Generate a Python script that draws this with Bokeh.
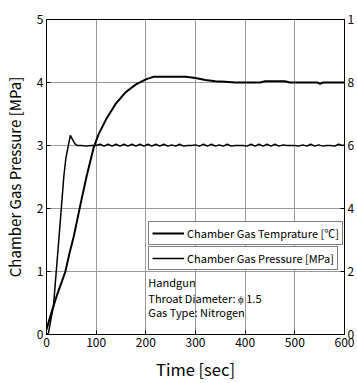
from bokeh.plotting import figure
from bokeh.models import Range1d, LinearAxis, Legend, LegendItem, Label
from bokeh.embed import file_html
from bokeh.resources import INLINE

FONT = "Noto Sans CJK JP"

# Chamber gas temperature [°C] (right axis)
temp_time = [0, 10, 20, 30, 38, 46, 55, 68, 81, 95, 105, 121, 140, 160, 180, 200, 215,
             280, 300, 320, 340, 360, 380, 430, 440, 480, 490, 530, 545, 551, 557, 570, 600]
temp_vals = [1.6, 7, 12, 16.4, 20, 25.6, 31.2, 41, 50.4, 59.4, 63.6, 68.6, 73.4, 77, 79.4, 81, 81.8,
             81.8, 81.4, 80.8, 80.4, 80.2, 80, 80, 80.4, 80.4, 80, 80, 80, 79.6, 80, 80, 80]

# Chamber gas pressure [MPa] (left axis)
pres_time = [0, 4, 8, 14, 21, 28, 35, 39, 44, 48, 52, 57, 62, 70, 80, 90, 100,
             108, 116, 124, 132, 140, 148, 156, 164, 172, 180, 188, 196, 204, 212, 220, 228,
             236, 244, 252, 260, 268, 276, 284, 292, 300, 308, 316, 324, 332, 340, 348, 356,
             364, 372, 380, 388, 396, 404, 412, 420, 428, 436, 444, 452, 460, 468, 476, 484,
             492, 500, 508, 516, 524, 532, 540, 548, 556, 564, 572, 580, 588, 596, 600]
pres_vals = [0, 0.02, 0.2, 0.45, 1.13, 1.82, 2.52, 2.8, 3.0, 3.16, 3.1, 3.03, 3.0, 3.0, 2.99, 3.0, 3.0,
             3.02, 2.99, 3.02, 2.99, 3.02, 2.99, 3.02, 2.99, 3.02, 2.99, 3.02, 2.99, 3.02, 2.99, 3.02, 2.99,
             3.02, 2.99, 3.01, 2.99, 3.02, 2.99, 3.0, 3.0, 3.01, 2.99, 3.02, 2.99, 3.02, 2.99, 3.01, 2.99,
             3.02, 2.99, 3.0, 3.0, 3.0, 2.99, 3.02, 2.99, 3.02, 2.99, 3.02, 2.99, 3.02, 2.99, 3.01, 3.0,
             3.0, 3.0, 2.99, 3.01, 2.99, 3.02, 2.99, 3.01, 2.99, 3.0, 3.0, 2.99, 3.02, 3.0, 3.01]

x_ticks = [0, 100, 200, 300, 400, 500, 600]
y_ticks = [0, 1, 2, 3, 4, 5]
temp_ticks = [0, 20, 40, 60, 80, 100]
temp_tick_labels = {0: "0", 20: "2", 40: "4", 60: "6", 80: "8", 100: "1"}

legend_labels = ["Chamber Gas Temprature [℃]", "Chamber Gas Pressure [MPa]"]
note_lines = ["Handgun", "Throat Diameter: ϕ 1.5", "Gas Type: Nitrogen"]

p = figure(width=357, height=383, output_backend="svg", toolbar_location=None,
           x_range=Range1d(0, 600), y_range=Range1d(0, 5),
           min_border_left=46, min_border_right=11, min_border_top=19, min_border_bottom=48)
p.extra_y_ranges = {"temp": Range1d(0, 100)}

p.outline_line_color = "black"
p.outline_line_width = 1
p.background_fill_color = "white"
p.border_fill_color = "white"

for g in (p.xgrid[0], p.ygrid[0]):
    g.grid_line_color = "#9a9a9a"
    g.grid_line_width = 1

p.xaxis.ticker = x_ticks
p.yaxis.ticker = y_ticks
p.xaxis.axis_label = "Time [sec]"
p.yaxis.axis_label = "Chamber Gas Pressure [MPa]"

right = LinearAxis(y_range_name="temp", ticker=temp_ticks)
right.major_label_overrides = temp_tick_labels
p.add_layout(right, "right")

for ax in p.xaxis + p.yaxis + [right]:
    ax.axis_line_color = "black"
    ax.major_tick_in = 4
    ax.major_tick_out = 0
    ax.minor_tick_line_color = None
    ax.major_tick_line_color = "black"
    ax.major_label_text_font = FONT
    ax.major_label_text_font_size = "12px"
    ax.major_label_text_color = "black"
    ax.axis_label_text_font = FONT
    ax.axis_label_text_color = "black"
    ax.axis_label_text_font_style = "normal"
    ax.major_label_standoff = 3

p.xaxis.axis_label_text_font_size = "16.5px"
p.yaxis.axis_label_text_font_size = "15px"
p.xaxis.axis_label_standoff = 7
p.yaxis.axis_label_standoff = 9
right.major_label_standoff = 3

r_temp = p.line(temp_time, temp_vals, y_range_name="temp", line_color="black", line_width=2)
r_pres = p.line(pres_time, pres_vals, line_color="black", line_width=1.5)

def make_legend(label, renderer, loc):
    lg = Legend(items=[LegendItem(label=label, renderers=[renderer])], location=loc)
    lg.border_line_color = "black"
    lg.border_line_width = 1.5
    lg.background_fill_color = "white"
    lg.background_fill_alpha = 1
    lg.padding = 3
    lg.margin = 0
    lg.glyph_width = 32
    lg.glyph_height = 16
    lg.label_height = 16
    lg.label_standoff = 3
    lg.label_text_font = FONT
    lg.label_text_font_size = "11px"
    lg.label_text_color = "black"
    return lg

p.add_layout(make_legend(legend_labels[0], r_temp, (102, 89)))
p.add_layout(make_legend(legend_labels[1], r_pres, (102, 64)))

note_y = [0.84, 0.585, 0.35]
for txt, yy in zip(note_lines, note_y):
    p.add_layout(Label(x=205, y=yy, text=txt, text_baseline="middle",
                       text_font=FONT, text_font_size="11px", text_color="black"))

open("out.html", "w").write(file_html(p, INLINE))
